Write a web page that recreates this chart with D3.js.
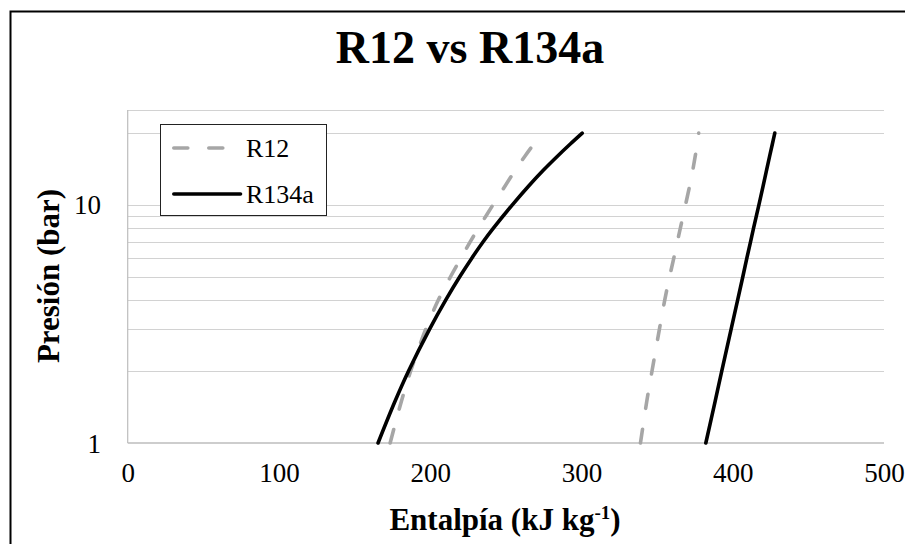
<!DOCTYPE html>
<html>
<head>
<meta charset="utf-8">
<script src="https://cdn.jsdelivr.net/npm/d3@7"></script>
<style>
  html, body { margin: 0; padding: 0; background: #fff; }
  svg { display: block; }
  text { font-family: "Liberation Serif", "Times New Roman", serif; fill: #000; }
</style>
</head>
<body>
<svg id="chart" width="905" height="544"></svg>
<script>
// Saturation pressures (bar) shared by both refrigerants
const pressures = [1, 1.5, 2, 3, 4, 5, 6, 7, 8, 10, 12, 14, 16, 18, 20];

// Saturated liquid / vapour enthalpy (kJ/kg)
const r12Liquid   = [173.5, 181, 187, 197, 205.5, 213.5, 220.5, 226.5, 232, 241.5, 249.5, 256.3, 262.6, 268.5, 274];
const r12Vapour   = [339, 343.2, 346.6, 351.5, 355.1, 358.3, 361.1, 363.4, 365.4, 368.8, 371.5, 373.6, 375.2, 376.5, 377.5];
const r134aLiquid = [165.5, 176.8, 185.6, 199.5, 210.4, 219.6, 227.7, 235, 241.9, 254.3, 265.1, 274.9, 284.1, 292.6, 300.5];
const r134aVapour = [382.2, 388.4, 392.7, 398.9, 403.3, 406.7, 409.4, 411.8, 413.8, 417.3, 420.1, 422.4, 424.4, 426.2, 427.8];

const seriesNames = ["R12", "R134a"];
const xTicks = [0, 100, 200, 300, 400, 500];
const yTickLabels = [1, 10];
const yGrid = [2, 3, 4, 5, 6, 7, 8, 9, 10, 20, 25];

const svg = d3.select("#chart");

// outer chart frame
svg.append("rect")
  .attr("x", 10.5).attr("y", 11.5)
  .attr("width", 940).attr("height", 560)
  .attr("fill", "none").attr("stroke", "#000").attr("stroke-width", 2);

const x = d3.scaleLinear().domain([0, 500]).range([127.7, 884]);
const y = d3.scaleLog().domain([1, 25]).range([443, 110]);

// horizontal gridlines
svg.append("g").selectAll("line").data(yGrid).join("line")
  .attr("x1", x(0)).attr("x2", x(500))
  .attr("y1", d => Math.round(y(d)) + 0.5).attr("y2", d => Math.round(y(d)) + 0.5)
  .attr("stroke", "#d2d2d2").attr("stroke-width", 1.2);

// axis lines
svg.append("line")
  .attr("x1", x(0)).attr("x2", x(500))
  .attr("y1", y(1)).attr("y2", y(1))
  .attr("stroke", "#bdbdbd").attr("stroke-width", 1.5);
svg.append("line")
  .attr("x1", x(0)).attr("x2", x(0))
  .attr("y1", y(1)).attr("y2", y(25))
  .attr("stroke", "#bdbdbd").attr("stroke-width", 1.2);

// x tick labels
const xAxis = d3.axisBottom(x).tickValues(xTicks).tickSize(0).tickPadding(0).tickFormat(d3.format("d"));
const gx = svg.append("g").attr("transform", "translate(0,482)").call(xAxis);
gx.select(".domain").remove();
gx.selectAll("text").attr("dy", 0).attr("font-size", 27)
  .style("font-family", "'Liberation Serif', serif");

// y tick labels
const yAxis = d3.axisLeft(y).tickValues(yTickLabels).tickSize(0).tickPadding(0).tickFormat(d3.format("d"));
const gy = svg.append("g").attr("transform", "translate(101,0)").call(yAxis);
gy.select(".domain").remove();
gy.selectAll("text").attr("dy", "0.34em").attr("font-size", 27)
  .style("font-family", "'Liberation Serif', serif");

// title and axis titles
svg.append("text")
  .attr("x", 470).attr("y", 63)
  .attr("text-anchor", "middle")
  .attr("font-size", 46).attr("font-weight", "bold")
  .text("R12 vs R134a");

const xt = svg.append("text")
  .attr("x", 505).attr("y", 530)
  .attr("text-anchor", "middle")
  .attr("font-size", 31).attr("font-weight", "bold");
xt.append("tspan").text("Entalpía (kJ kg");
xt.append("tspan").attr("font-size", 19).attr("dy", -11).text("-1");
xt.append("tspan").attr("dy", 11).text(")");

svg.append("text")
  .attr("transform", "translate(59,276) rotate(-90)")
  .attr("text-anchor", "middle")
  .attr("font-size", 31).attr("font-weight", "bold")
  .text("Presión (bar)");

// saturation curves
const line = d3.line()
  .x(d => x(d[0]))
  .y(d => y(d[1]))
  .curve(d3.curveCatmullRom.alpha(0.5));

const styles = {
  R12:   { stroke: "#a6a6a6", width: 3.6, dash: "14,21" },
  R134a: { stroke: "#000000", width: 3.6, dash: null }
};

const curves = [
  { name: "R12",   h: r12Liquid },
  { name: "R12",   h: r12Vapour },
  { name: "R134a", h: r134aLiquid },
  { name: "R134a", h: r134aVapour }
];

svg.append("g").selectAll("path").data(curves).join("path")
  .attr("d", c => line(c.h.map((h, i) => [h, pressures[i]])))
  .attr("fill", "none")
  .attr("stroke", c => styles[c.name].stroke)
  .attr("stroke-width", c => styles[c.name].width)
  .attr("stroke-dasharray", c => styles[c.name].dash)
  .attr("stroke-linecap", "round")
  .attr("stroke-linejoin", "round");

// legend
const lg = svg.append("g");
lg.append("rect")
  .attr("x", 160.5).attr("y", 124.5).attr("width", 166).attr("height", 91)
  .attr("fill", "#fff").attr("stroke", "#222").attr("stroke-width", 1);
seriesNames.forEach((name, i) => {
  const cy = 148 + i * 46;
  lg.append("line")
    .attr("x1", 173.8).attr("x2", 240.5).attr("y1", cy).attr("y2", cy)
    .attr("stroke", styles[name].stroke).attr("stroke-width", styles[name].width)
    .attr("stroke-dasharray", styles[name].dash)
    .attr("stroke-linecap", "round");
  lg.append("text")
    .attr("x", 246).attr("y", cy).attr("dy", "0.34em")
    .attr("font-size", 26)
    .text(name);
});
</script>
</body>
</html>
